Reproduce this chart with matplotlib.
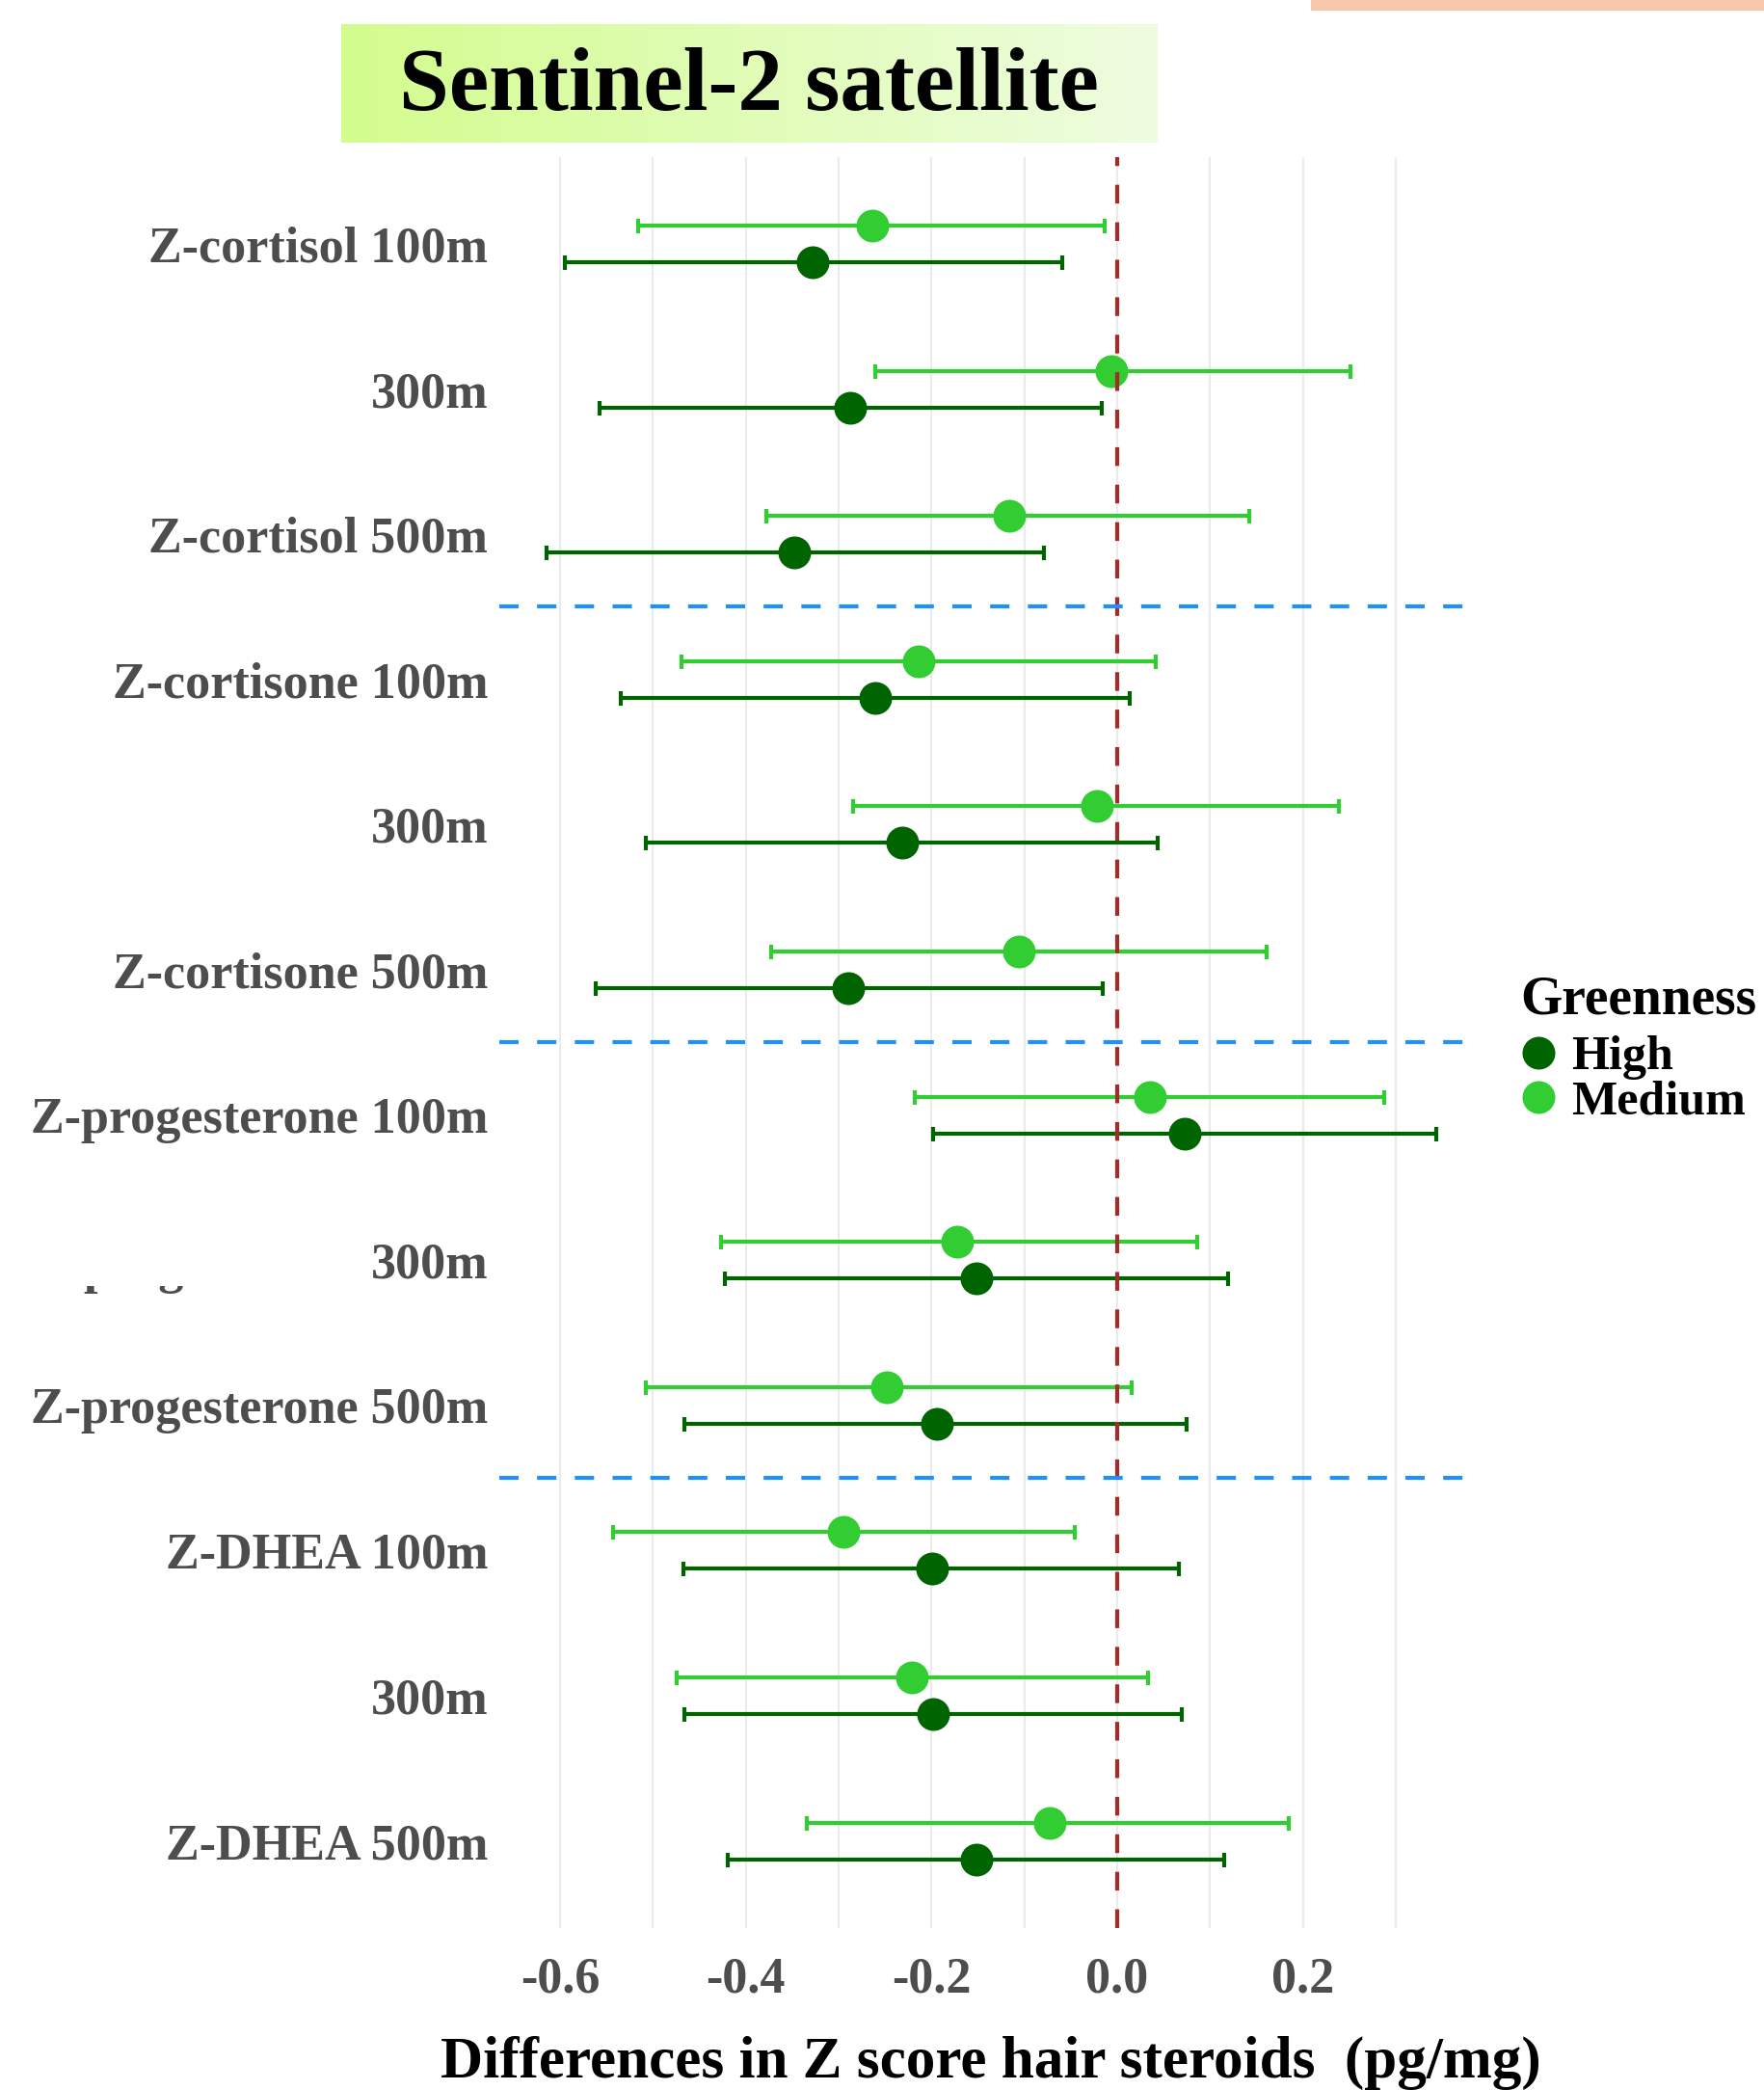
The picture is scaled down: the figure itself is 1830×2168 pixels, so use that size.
import numpy as np
import matplotlib
matplotlib.use("Agg")
import matplotlib.pyplot as plt
from matplotlib.lines import Line2D
from matplotlib.patches import Rectangle

plt.rcParams['font.family'] = 'Liberation Serif'
plt.rcParams['font.weight'] = 'bold'
plt.rcParams['axes.unicode_minus'] = False
plt.rcParams['lines.scale_dashes'] = False

W, H = 1830, 2168

# Outcome rows, top to bottom
labels = ["Z-cortisol 100m", "300m", "Z-cortisol 500m",
          "Z-cortisone 100m", "300m", "Z-cortisone 500m",
          "Z-progesterone 100m", "300m", "Z-progesterone 500m",
          "Z-DHEA 100m", "300m", "Z-DHEA 500m"]

# High greenness: estimate and 95% CI
high_est = [-0.328, -0.288, -0.348, -0.261, -0.232, -0.290,
            0.073, -0.152, -0.194, -0.199, -0.198, -0.152]
high_lo = [-0.595, -0.558, -0.615, -0.535, -0.508, -0.562,
           -0.198, -0.423, -0.466, -0.467, -0.466, -0.420]
high_hi = [-0.059, -0.017, -0.079, 0.014, 0.044, -0.016,
           0.344, 0.119, 0.075, 0.067, 0.070, 0.115]

# Medium greenness: estimate and 95% CI
med_est = [-0.264, -0.006, -0.116, -0.214, -0.022, -0.106,
           0.035, -0.172, -0.248, -0.295, -0.221, -0.073]
med_lo = [-0.516, -0.261, -0.378, -0.469, -0.284, -0.373,
          -0.218, -0.427, -0.508, -0.543, -0.475, -0.334]
med_hi = [-0.013, 0.251, 0.142, 0.042, 0.239, 0.161,
          0.288, 0.086, 0.016, -0.046, 0.033, 0.185]

# group separators between hormones
separators = [2.5, 5.5, 8.5]

HIGH_COL = '#006400'
MED_COL = '#32cd32'
LABEL_COL = '#4d4d4d'

fig = plt.figure(figsize=(W / 100, H / 100), dpi=100)
ax = fig.add_axes([518 / W, 1 - 2000 / H, 1002 / W, 1837.4 / H])

y = np.arange(len(labels))
dodge = 0.126

def draw_group(est, lo, hi, offset, col):
    est = np.array(est)
    err = [est - np.array(lo), np.array(hi) - est]
    eb = ax.errorbar(est, y + offset, xerr=err, fmt='o', color=col, ms=24.5,
                     elinewidth=3.0, capsize=5.4, capthick=3.0, zorder=3)
    # no outline on the dots, caps keep their stroke
    eb[0].set_markeredgewidth(0)

draw_group(med_est, med_lo, med_hi, -dodge, MED_COL)
draw_group(high_est, high_lo, high_hi, dodge, HIGH_COL)

ax.axvline(0, color='#a52a2a', lw=3, ls=(0, (14, 14)), zorder=4)
for s in separators:
    ax.axhline(s, color='#1e90ff', lw=3, ls=(0, (14.4, 13.8)), zorder=5)

ax.set_xlim(-0.6656, 0.3749)
ax.set_ylim(len(labels) - 0.4, -0.6)
ax.set_xticks([-0.6, -0.4, -0.2, 0.0, 0.2])
ax.set_xticklabels(["-0.6", "-0.4", "-0.2", "0.0", "0.2"])
ax.set_xticks([-0.5, -0.3, -0.1, 0.1, 0.3], minor=True)
ax.set_yticks(y)
ax.set_yticklabels(labels)
ax.grid(axis='x', which='both', color='#ebebeb', lw=1.5, zorder=0)
ax.set_axisbelow(True)
ax.tick_params(axis='both', which='both', length=0)
ax.tick_params(axis='x', pad=21, labelsize=37.5, labelcolor=LABEL_COL)
ax.tick_params(axis='y', pad=8.6, labelsize=37.5, labelcolor=LABEL_COL)
for sp in ax.spines.values():
    sp.set_visible(False)

ax.set_xlabel("Differences in Z score hair steroids  (pg/mg)", fontsize=44,
              fontweight='bold', color='black', labelpad=25)
ax.xaxis.label.set_x(0.509)

# leftover tails of an older row label poking out under the white patch
fig.text(35 / W, 1 - 1331 / H, "Z-progesterone", fontsize=37.5,
         color=LABEL_COL, ha='left', va='baseline')
fig.add_artist(Rectangle((0, 1 - 1334 / H), 383 / W, 70 / H,
                         transform=fig.transFigure, facecolor='white',
                         edgecolor='none', zorder=10))

# legend
fig.text(1577 / W, 1 - 1051 / H, "Greenness", fontsize=40, color='black',
         ha='left', va='baseline')
handles = [Line2D([], [], ls='none', marker='o', ms=24.5, mew=0, color=HIGH_COL),
           Line2D([], [], ls='none', marker='o', ms=24.5, mew=0, color=MED_COL)]
ax.legend(handles, ["High", "Medium"], loc='upper left',
          bbox_to_anchor=(1576 / W, 1 - 1074 / H), bbox_transform=fig.transFigure,
          frameon=False, fontsize=36, handlelength=0.8, handletextpad=0.28,
          labelspacing=0.0, borderpad=0, borderaxespad=0)

# title banner with a soft green gradient
tax = fig.add_axes([354 / W, 1 - 148 / H, 847 / W, 123 / H])
c0 = np.array([211, 252, 142]) / 255
c1 = np.array([238, 253, 224]) / 255
t = np.linspace(0, 1, 256)
grad = (c0[None, :] * (1 - t[:, None]) + c1[None, :] * t[:, None])[None, :, :]
tax.imshow(grad, aspect='auto', extent=[0, 1, 0, 1])
tax.set_axis_off()
fig.text(777 / W, 1 - 114 / H, "Sentinel-2 satellite", fontsize=67,
         color='black', ha='center', va='baseline')

# strip along the top right edge
fig.add_artist(Rectangle((1360 / W, 1 - 11 / H), 470 / W, 11 / H,
                         transform=fig.transFigure, facecolor='#f7c7ad',
                         edgecolor='none'))

fig.savefig("out.png", dpi=100, facecolor='white')
